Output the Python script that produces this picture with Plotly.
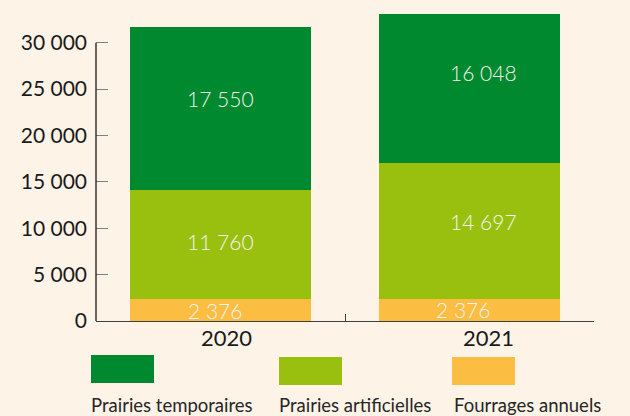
import plotly.graph_objects as go

# Surface fourragère par type (ha)
years = ["2020", "2021"]
series_names = ["Fourrages annuels", "Prairies artificielles", "Prairies temporaires"]
fourrages_annuels = [2376, 2376]
prairies_artificielles = [11760, 14697]
prairies_temporaires = [17550, 16048]
y_ticks = [0, 5000, 10000, 15000, 20000, 25000, 30000]

values = [fourrages_annuels, prairies_artificielles, prairies_temporaires]
colors = ["#FBBD42", "#99C00F", "#00892F"]
BG = "#FDF3E7"
FONT = "Lato"

# figure geometry (px)
W, H = 630, 416
ML, MR, MT, MB = 96, 36, 0, 95
PW, PH = W - ML - MR, H - MT - MB


def px(x):
    return (x - ML) / PW


def py(y):
    return (H - MB - y) / PH


fig = go.Figure()
for name, vals, col in zip(series_names, values, colors):
    fig.add_trace(go.Bar(
        x=years, y=vals, name=name, marker=dict(color=col, line=dict(width=0)),
        showlegend=False, hoverinfo="skip",
    ))

# value labels inside each segment, with small per-label nudges (px)
nudges = {
    (0, 0): (-6, -1), (0, 1): (0, 3), (0, 2): (0, 10),
    (1, 0): (-7, 0), (1, 1): (14, 9), (1, 2): (14, 16),
}
annotations = []
for i, yr in enumerate(years):
    base = 0
    for s, vals in enumerate(values):
        v = vals[i]
        dx, dy = nudges[(i, s)]
        annotations.append(dict(
            x=i, y=base + v / 2, xref="x", yref="y",
            text=f"{v:,}".replace(",", " "), showarrow=False,
            font=dict(family=FONT, size=21, color="#F4F4F0", weight=300),
            xanchor="center", yanchor="middle", xshift=dx, yshift=dy,
        ))
        base += v

# category labels under the axis
for i, (yr, dx) in enumerate(zip(years, [6, 19])):
    annotations.append(dict(
        x=i, y=0, xref="x", yref="y", text=yr, showarrow=False,
        font=dict(family=FONT, size=22, color="#1A1A1A"),
        xanchor="center", yanchor="middle", xshift=dx, yshift=-16,
    ))

# legend: swatches with captions below
legend_items = [
    ("Prairies temporaires", "#00892F", 91, 355, 89),
    ("Prairies artificielles", "#99C00F", 279, 357, 277),
    ("Fourrages annuels", "#FBBD42", 452, 357, 452),
]
shapes = []
for label, col, x0, y0, tx in legend_items:
    shapes.append(dict(
        type="rect", xref="paper", yref="paper",
        x0=px(x0), x1=px(x0 + 63), y0=py(y0), y1=py(y0 + 28),
        fillcolor=col, line=dict(width=0), layer="above",
    ))
    annotations.append(dict(
        x=px(tx), y=py(405), xref="paper", yref="paper", text=label,
        showarrow=False, xanchor="left", yanchor="middle",
        font=dict(family=FONT, size=18.5, color="#262626"),
    ))

# vertical axis line only up to the last tick
shapes.append(dict(
    type="line", xref="paper", yref="y", x0=0, x1=0, y0=0, y1=y_ticks[-1],
    line=dict(color="#1A1A1A", width=1.3), layer="above",
))

fig.update_layout(
    width=W, height=H,
    margin=dict(l=ML, r=MR, t=MT, b=MB, pad=0),
    paper_bgcolor=BG, plot_bgcolor=BG,
    barmode="stack", bargap=0.273,
    separators=", ",
    showlegend=False,
    annotations=annotations,
    shapes=shapes,
    font=dict(family=FONT),
)
fig.update_xaxes(
    type="category", range=[-0.5, 1.5], showgrid=False, zeroline=False,
    showline=True, linecolor="#404040", linewidth=1.3,
    ticks="inside", tickson="boundaries", ticklen=7, tickcolor="#404040",
    showticklabels=False,
)
fig.update_yaxes(
    range=[0, 34600], showgrid=False, zeroline=False, showline=False,
    tickmode="array", tickvals=y_ticks, tickformat=",d",
    ticks="inside", ticklen=12, tickcolor="#7F7F7F", tickwidth=1.3,
    tickfont=dict(family=FONT, size=21, color="#1A1A1A"),
    ticklabelstandoff=8,
)

fig.write_html("out.html")
